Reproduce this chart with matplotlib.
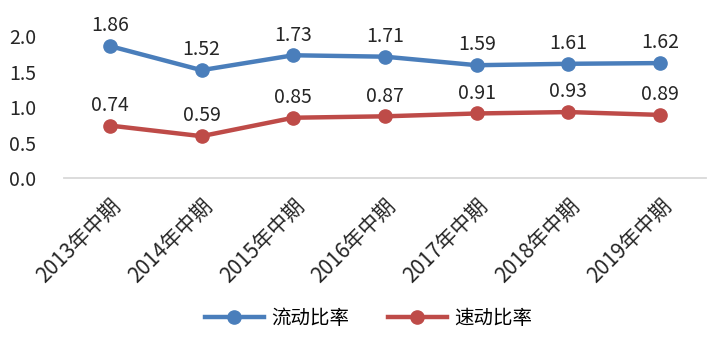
import matplotlib
matplotlib.use("Agg")
import matplotlib.pyplot as plt

plt.rcParams['font.family'] = ['Noto Sans CJK SC', 'DejaVu Sans']

periods = ["2013年中期", "2014年中期", "2015年中期", "2016年中期",
           "2017年中期", "2018年中期", "2019年中期"]
current_ratio = [1.86, 1.52, 1.73, 1.71, 1.59, 1.61, 1.62]
quick_ratio = [0.74, 0.59, 0.85, 0.87, 0.91, 0.93, 0.89]

blue = "#4A7EBB"
red = "#BE4B48"

fig = plt.figure(figsize=(7.23, 3.54), dpi=100)
ax = fig.add_axes([0.0885, 0.497, 0.888, 0.401])

x = list(range(len(periods)))
ax.plot(x, current_ratio, color=blue, lw=3.2, marker="o", ms=9.5, label="流动比率")
ax.plot(x, quick_ratio, color=red, lw=3.2, marker="o", ms=9.5, label="速动比率")

for xi, v in zip(x, current_ratio):
    ax.annotate(f"{v:.2f}", (xi, v), xytext=(0, 7), textcoords="offset points",
                ha="center", va="bottom", fontsize=14, color="#262626")
for xi, v in zip(x, quick_ratio):
    ax.annotate(f"{v:.2f}", (xi, v), xytext=(0, 7), textcoords="offset points",
                ha="center", va="bottom", fontsize=14, color="#262626")

ax.set_xlim(-0.5, len(periods) - 0.5)
ax.set_ylim(0, 2.0)
ax.set_yticks([0.0, 0.5, 1.0, 1.5, 2.0])
ax.set_yticklabels([f"{t:.1f}" for t in [0.0, 0.5, 1.0, 1.5, 2.0]])
ax.set_xticks(x)
ax.set_xticklabels(periods, rotation=45, ha="right", rotation_mode="anchor")

for s in ["top", "right", "left"]:
    ax.spines[s].set_visible(False)
ax.spines["bottom"].set_color("#D9D9D9")
ax.spines["bottom"].set_linewidth(1.3)
ax.tick_params(axis="y", length=0, labelsize=14, colors="#262626", pad=20)
ax.tick_params(axis="x", length=0, labelsize=15, colors="#262626", pad=12)

fig.legend(loc="center", bbox_to_anchor=(0.51, 0.1), ncol=2, frameon=False,
           fontsize=14, handlelength=3, columnspacing=2.0, handletextpad=0.4)

fig.savefig("out.png", dpi=100)
